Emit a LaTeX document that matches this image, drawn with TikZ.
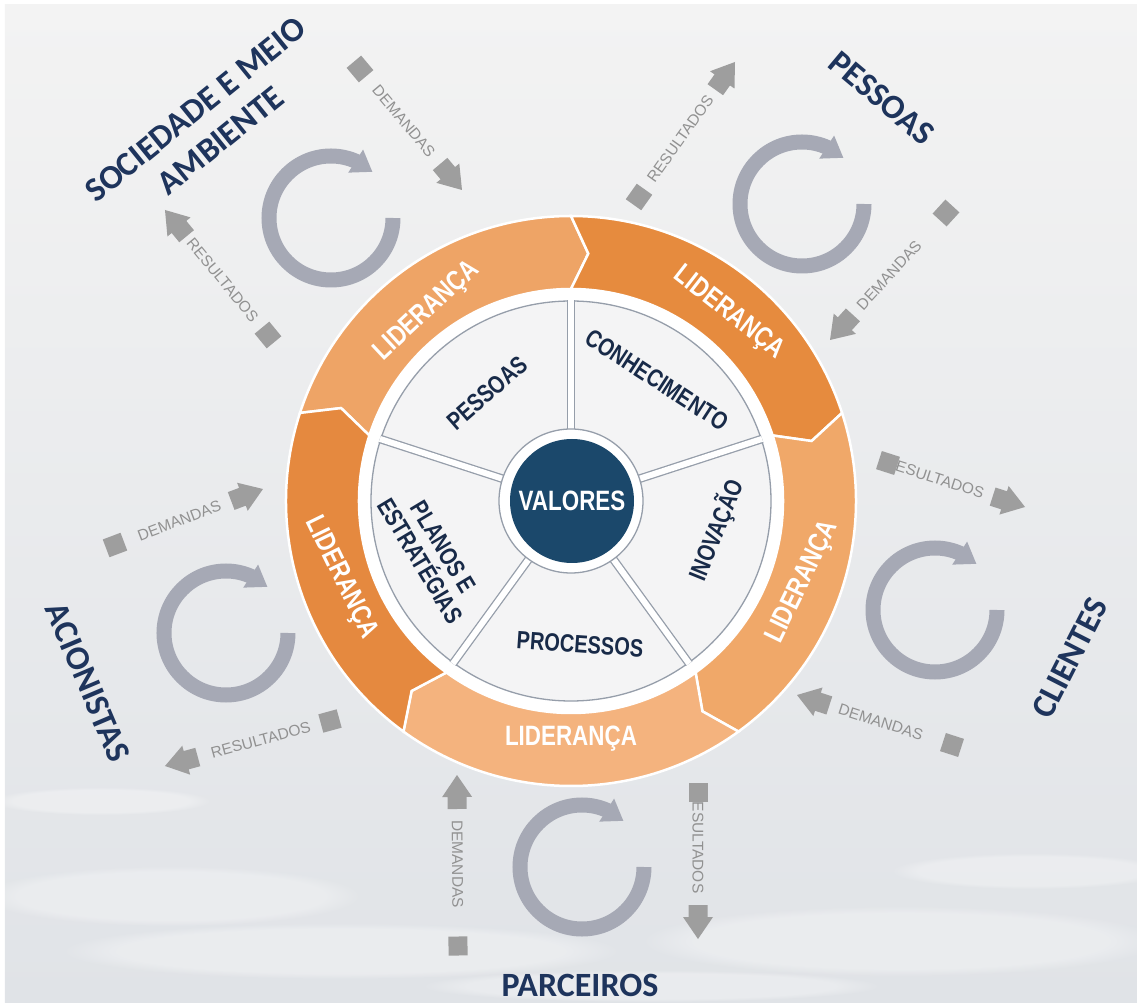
\documentclass[tikz,border=0pt]{standalone}
\usepackage{fontspec}
\setmainfont{Liberation Sans}
\newfontfamily\titulo{Carlito}
\newfontfamily\estreita[FakeStretch=0.8]{Liberation Sans}
\usetikzlibrary{arrows.meta,bending,fadings}

\definecolor{marinho}{RGB}{30,52,92}
\definecolor{azulvalor}{RGB}{27,72,107}
\definecolor{azultexto}{RGB}{24,42,72}
\definecolor{lar1}{RGB}{238,164,102}
\definecolor{lar2}{RGB}{230,139,62}
\definecolor{lar3}{RGB}{240,168,105}
\definecolor{lar4}{RGB}{244,179,126}
\definecolor{lar5}{RGB}{229,137,63}
\definecolor{raio}{RGB}{150,158,170}
\definecolor{setor}{RGB}{244,244,245}
\definecolor{ciclocor}{RGB}{166,169,181}
\definecolor{cinza}{RGB}{158,158,158}
\definecolor{cinzatexto}{RGB}{145,145,145}
\definecolor{fundo1}{RGB}{243,243,243}
\definecolor{fundo2}{RGB}{236,236,237}
\definecolor{fundo3}{RGB}{224,227,231}

\begin{document}
\begin{tikzpicture}[x=1pt,y=1pt,
	quad/.style={fill=cinza, minimum size=19pt, inner sep=0pt},
	rotulo/.style={text=cinzatexto, font=\fontsize{15.5}{16}\selectfont, inner sep=0pt},
	lider/.style={text=white, font=\estreita\bfseries\fontsize{28}{30}\selectfont},
	pilar/.style={text=azultexto, font=\estreita\bfseries\fontsize{25}{27}\selectfont, align=center},
	parte/.style={text=marinho, font=\titulo\bfseries\fontsize{34}{40}\selectfont, align=center},
	ciclo/.style={draw=ciclocor, line width=15pt, -{Triangle[length=20pt,width=26pt]}},
	seta/.pic={\fill[cinza] (0,0) -- (-22,15) -- (-22,9.5) -- (-34,9.5) -- (-34,-9.5) -- (-22,-9.5) -- (-22,-15) -- cycle;},
	roda/.pic={\draw[ciclo] (62,0) arc[start angle=0, end angle=-312, radius=62pt];}]
	\useasboundingbox (-571,-502) rectangle (566,501);
	\shade[top color=fundo1, middle color=fundo2, bottom color=fundo3] (-566,-502) rectangle (566,496);
	\foreach \x/\y/\rx/\ry in {-400/-395/190pt/30pt, -230/-450/280pt/28pt, 330/-440/260pt/35pt, 460/-370/140pt/18pt, 80/-485/230pt/16pt, -470/-300/110pt/14pt}
		\fill[white, opacity=.3, path fading=circle with fuzzy edge 20 percent] (\x,\y) ellipse[x radius=\rx, y radius=\ry];

	\fill[white] (0,0) circle[radius=214pt];
	\foreach \a/\cor [evaluate=\a as \b using \a-72] in {162/lar1, 90/lar2, 18/lar3, -54/lar4, -126/lar5}
		\filldraw[fill=\cor, draw=white, line width=2.5pt] (\a:285) arc[start angle=\a, end angle=\b, radius=285pt] -- ({\b-4}:248) -- (\b:212) arc[start angle=\b, end angle=\a, radius=212pt] -- ({\a-4}:248) -- cycle;

	\filldraw[fill=setor, draw=raio, line width=1.3pt] (0,0) circle[radius=200pt];
	\foreach \a in {90,18,-54,-126,162}
		\draw[raio, line width=1.3pt, double=white, double distance=6pt] (\a:72) -- (\a:201);
	\filldraw[fill=white, draw=raio, line width=1.3pt] (0,0) circle[radius=72pt];
	\node[circle, fill=azulvalor, minimum size=124pt, inner sep=0pt, text=white, font=\estreita\bfseries\fontsize{28}{30}\selectfont] (valores) at (1,0) {VALORES};

	\node[pilar, rotate=41] (pessoas) at (-84,108) {PESSOAS};
	\node[pilar, rotate=-33] (conhecimento) at (86,121) {CONHECIMENTO};
	\node[pilar, rotate=68] (inovacao) at (145,-29) {INOVAÇÃO};
	\node[pilar, rotate=-4] (processos) at (9,-143) {PROCESSOS};
	\node[pilar, rotate=-59] (planos) at (-139,-53) {PLANOS E\\ESTRATÉGIAS};

	\node[lider, rotate=43] (lid1) at (-144,190) {LIDERANÇA};
	\node[lider, rotate=-38] (lid2) at (158,188) {LIDERANÇA};
	\node[lider, rotate=64] (lid3) at (232,-81) {LIDERANÇA};
	\node[lider] (lid4) at (0,-238) {LIDERANÇA};
	\node[lider, rotate=-64] (lid5) at (-230,-77) {LIDERANÇA};

	\node[parte, rotate=39] (sociedade) at (-363,376) {SOCIEDADE E MEIO\\AMBIENTE};
	\node[parte, rotate=-40] (pessoas-ext) at (311,403) {PESSOAS};
	\node[parte, rotate=63] (clientes) at (499,-157) {CLIENTES};
	\node[parte] (parceiros) at (9,-484) {PARCEIROS};
	\node[parte, rotate=-67] (acionistas) at (-483,-181) {ACIONISTAS};

	\pic at (-240,283) {roda};
	\pic at (231,297) {roda};
	\pic at (364,-109) {roda};
	\pic at (11,-366) {roda};
	\pic at (-345,-132) {roda};

	\foreach \qx/\qy/\tx/\ty/\ang/\ps/\txt [count=\i] in {
		-211/432/-109/311/-49.9/.43/DEMANDAS,
		-303/166/-406/291/129.5/.44/RESULTADOS,
		68/304/164/439/54.6/.43/RESULTADOS,
		375/288/259/161/227.6/.49/DEMANDAS,
		317/38/454/-6/-17.8/.34/RESULTADOS,
		381/-244/226/-194/162.1/.46/DEMANDAS,
		-113/-445/-114/-274/90.3/.48/DEMANDAS,
		127/-291/127/-438/-90/.34/RESULTADOS,
		-456/-44/-308/12/20.7/.435/DEMANDAS,
		-241/-220/-406/-265/195.3/.42/RESULTADOS}
	{
		\coordinate (q\i) at (\qx,\qy);
		\coordinate (t\i) at (\tx,\ty);
		\path (q\i) -- (t\i) node[rotulo, sloped, pos=\ps] (r\i) {\txt};
		\node[quad, rotate=\ang] (s\i) at (q\i) {};
		\pic[rotate=\ang] at (t\i) {seta};
	}
\end{tikzpicture}
\end{document}
